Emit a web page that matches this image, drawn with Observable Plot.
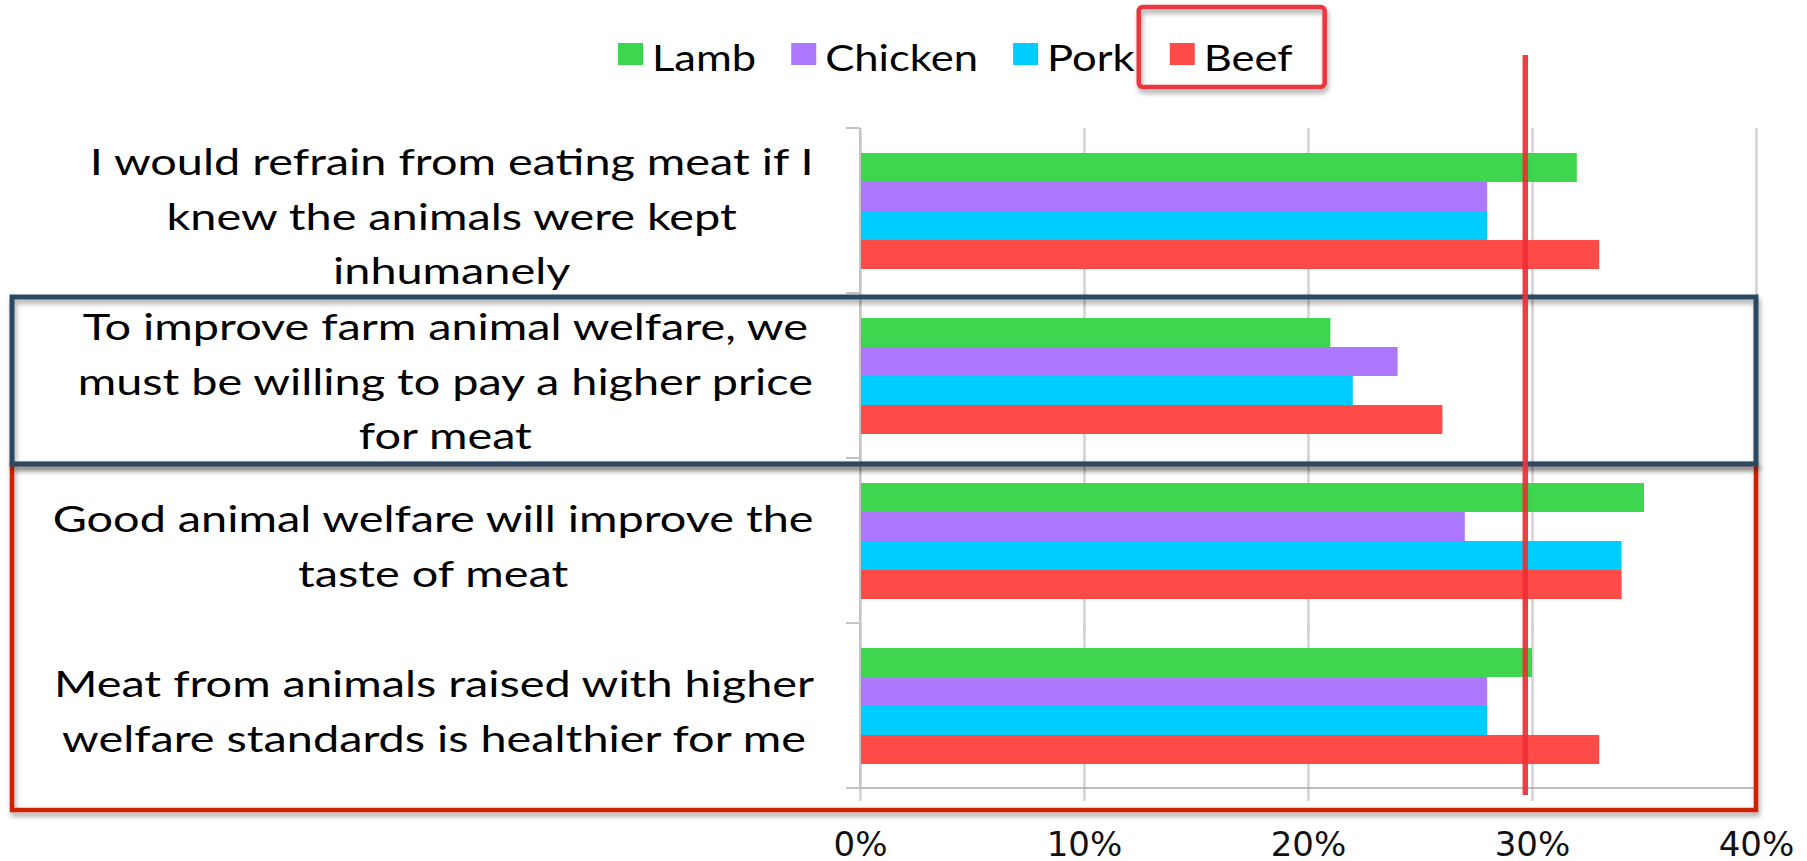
<!DOCTYPE html>
<html><head><meta charset="utf-8">
<script src="https://cdn.jsdelivr.net/npm/d3@7"></script>
<script src="https://cdn.jsdelivr.net/npm/@observablehq/plot@0.6"></script>
<style>
body{margin:0;background:#fff}
#chart{position:relative;width:1807px;height:861px}
</style>
</head><body><div id="chart"></div>
<script>
// ---- data ----
const questions = [
  "I would refrain from eating meat if I knew the animals were kept inhumanely",
  "To improve farm animal welfare, we must be willing to pay a higher price for meat",
  "Good animal welfare will improve the taste of meat",
  "Meat from animals raised with higher welfare standards is healthier for me"
];
const questionLines = [
  ["I would refrain from eating meat if I", "knew the animals were kept", "inhumanely"],
  ["To improve farm animal welfare, we", "must be willing to pay a higher price", "for meat"],
  ["Good animal welfare will improve the", "taste of meat"],
  ["Meat from animals raised with higher", "welfare standards is healthier for me"]
];
const meats = ["Lamb", "Chicken", "Pork", "Beef"];
const lamb    = [0.32, 0.21, 0.35, 0.30];
const chicken = [0.28, 0.24, 0.27, 0.28];
const pork    = [0.28, 0.22, 0.34, 0.28];
const beef    = [0.33, 0.26, 0.34, 0.33];
const meatColors = ["#3fd64f", "#ab78fe", "#00cdff", "#ff4b48"];
const xTicks = [0, 0.1, 0.2, 0.3, 0.4];
const referenceValue = 0.297;
const highlightedMeat = "Beef";
const blueBoxQuestions = [questions[1]];
const redBoxQuestions = [questions[2], questions[3]];

// ---- build table ----
const series = [lamb, chicken, pork, beef];
const rows = questions.flatMap((q, i) => meats.map((m, j) => ({question: q, meat: m, value: series[j][i]})));

const labelFont = "Lato";
const labelSize = 36;
const labelStretch = 1.3;
const ctx = document.createElement("canvas").getContext("2d");
ctx.font = `${labelSize}px ${labelFont}`;
const labelRight = 814;
const marginLeft = 860;

const labelMarks = questions.map((q, i) => {
  const w = d3.max(questionLines[i], s => ctx.measureText(s).width) * labelStretch;
  return Plot.text([q], {
    fy: d => d,
    text: () => questionLines[i].join("\n"),
    frameAnchor: "left",
    textAnchor: "middle",
    dx: labelRight - w / 2 - marginLeft,
    dy: 1,
    lineHeight: 1.52,
    fontSize: labelSize,
    fontFamily: labelFont,
    fill: "#000"
  });
});

const plot = Plot.plot({
  width: 1807,
  height: 861,
  marginLeft,
  marginRight: 51,
  marginTop: 128,
  marginBottom: 73,
  style: {fontFamily: "DejaVu Sans", fontSize: "34px", background: "white", color: "#111", overflow: "visible"},
  x: {domain: [0, 0.4], label: null},
  y: {domain: meats, axis: null, paddingInner: 0, paddingOuter: 0.77},
  fy: {domain: questions, axis: null, padding: 0},
  color: {domain: meats, range: meatColors},
  marks: [
    Plot.ruleX(xTicks, {x: d => d, stroke: "#d2d2d2", strokeWidth: 2.5, insetBottom: -13}),
    Plot.barX(rows, {x: "value", y: "meat", fy: "question", fill: "meat"}),
    Plot.axisX(xTicks, {tickFormat: d3.format(".0%"), tickSize: 0, tickPadding: 43, label: null, fontSize: 34, fontFamily: "DejaVu Sans", fill: "#111"}),
    ...labelMarks
  ]
});

document.getElementById("chart").appendChild(plot);

const svg = d3.select(plot);

// stretch the category labels horizontally about their centres (the reference text is wide)
svg.selectAll('g[aria-label="text"] text').each(function() {
  const b = this.getBBox();
  const cx = b.x + b.width / 2;
  const t = this.getAttribute("transform") || "";
  this.setAttribute("transform", `${t} translate(${cx},0) scale(${labelStretch},1) translate(${-cx},0)`);
});

// ---- annotations & axis lines from scales ----
const xs = plot.scale("x");
const fys = plot.scale("fy");
const bw = fys.bandwidth;
const x0 = xs.apply(0), x40 = xs.apply(0.4);
const facetTop = q => fys.apply(q);
const lastBottom = facetTop(questions[questions.length - 1]) + bw;

const defs = svg.append("defs");
const f = defs.append("filter").attr("id", "shadow").attr("x", "-5%").attr("y", "-20%").attr("width", "110%").attr("height", "140%");
f.append("feDropShadow").attr("dx", 1.5).attr("dy", 4).attr("stdDeviation", 2.5).attr("flood-color", "#000").attr("flood-opacity", 0.35);

const axisColor = "#a8a8a8";
svg.append("line").attr("x1", x0).attr("x2", x40).attr("y1", lastBottom).attr("y2", lastBottom)
  .attr("stroke", axisColor).attr("stroke-width", 1.5);
svg.append("line").attr("x1", x0).attr("x2", x0).attr("y1", facetTop(questions[0])).attr("y2", lastBottom)
  .attr("stroke", "#c4c4c4").attr("stroke-width", 2);
[...questions.map(facetTop), lastBottom].forEach(y => {
  svg.append("line").attr("x1", x0 - 14).attr("x2", x0).attr("y1", y).attr("y2", y)
    .attr("stroke", "#c4c4c4").attr("stroke-width", 2);
});

// red box (lower two questions)
const redTop = facetTop(redBoxQuestions[0]) + 6;
const redBottom = facetTop(redBoxQuestions[redBoxQuestions.length - 1]) + bw + 22;
svg.append("rect").attr("x", 12).attr("y", redTop).attr("width", x40 - 12).attr("height", redBottom - redTop)
  .attr("fill", "none").attr("stroke", "#cc2200").attr("stroke-width", 4.5).attr("filter", "url(#shadow)");

// blue box (price question)
const blueTop = facetTop(blueBoxQuestions[0]) + 4;
const blueBottom = facetTop(blueBoxQuestions[0]) + bw + 6;
svg.append("rect").attr("x", 12).attr("y", blueTop).attr("width", x40 - 12).attr("height", blueBottom - blueTop)
  .attr("fill", "none").attr("stroke", "#294a62").attr("stroke-width", 5).attr("filter", "url(#shadow)");

// reference line
const xr = xs.apply(referenceValue);
svg.append("line").attr("x1", xr).attr("x2", xr).attr("y1", 55).attr("y2", lastBottom + 7)
  .attr("stroke", "#ee2f36").attr("stroke-width", 5.5).attr("stroke-opacity", 0.93);

// legend
const legendStretch = 1.21;
const lctx = document.createElement("canvas").getContext("2d");
lctx.font = "36px Lato";
const colorScale = plot.scale("color");
const lg = svg.append("g");
let lx = 618;
meats.forEach((m, i) => {
  const w = lctx.measureText(m).width * legendStretch;
  if (m === highlightedMeat) {
    lg.append("rect").attr("x", lx - 31).attr("y", 7).attr("width", 34 + w + 63).attr("height", 80).attr("rx", 4)
      .attr("fill", "none").attr("stroke", "#ec343d").attr("stroke-width", 4.5).attr("filter", "url(#shadow)");
  }
  lg.append("rect").attr("x", lx).attr("y", 43).attr("width", 25).attr("height", 22).attr("fill", colorScale.range[i]);
  lg.append("text").attr("transform", `translate(${lx + 34},71) scale(${legendStretch},1)`)
    .attr("text-anchor", "start")
    .attr("font-family", "Lato").attr("font-size", 36).attr("fill", "#000").text(m);
  lx += 34 + w + 35;
});
</script>
</body></html>
